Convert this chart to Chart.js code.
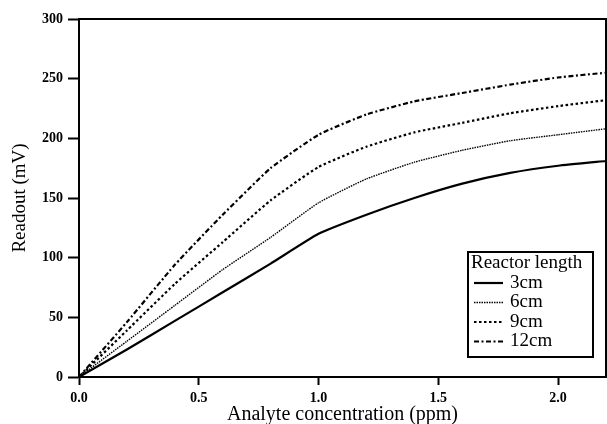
<!DOCTYPE html>
<html>
<head>
<meta charset="utf-8">
<script src="https://cdn.jsdelivr.net/npm/chart.js@4.4.1/dist/chart.umd.min.js"></script>
<style>
  html, body { margin: 0; padding: 0; background: #fff; }
  #wrap { width: 607px; height: 424px; }
</style>
</head>
<body>
<div id="wrap"><canvas id="c" width="607" height="424"></canvas></div>
<script>
// Analyte concentration (ppm) at which readouts were taken
const concentration = [0, 0.2, 0.4, 0.6, 0.8, 1.0, 1.2, 1.4, 1.6, 1.8, 2.0, 2.2];

// Readout (mV) for each reactor length
const readout3cm  = [0, 23, 47, 71, 95, 120, 136, 150, 162, 171, 177, 181];
const readout6cm  = [0, 30, 60, 90, 117, 146, 166, 180, 190, 198, 203, 208];
const readout9cm  = [0, 39, 78, 113, 148, 176, 193, 205, 213, 221, 227, 232];
const readout12cm = [0, 46, 94, 136, 175, 203, 220, 231, 238, 245, 251, 255];

const seriesLabels = ['3cm', '6cm', '9cm', '12cm'];
const legendTitle = 'Reactor length';

const xTicks = [0, 0.5, 1.0, 1.5, 2.0];
const yTicks = [0, 50, 100, 150, 200, 250, 300];

const SERIF = '"Liberation Serif", "Times New Roman", serif';

const styles = [
  { borderWidth: 2.2, borderDash: [] },
  { borderWidth: 1.4, borderDash: [1.5, 1] },
  { borderWidth: 2.2, borderDash: [2.5, 2.5] },
  { borderWidth: 2.2, borderDash: [5, 2.5, 2, 2.5] }
];

function toPoints(ys) {
  return concentration.map((x, i) => ({ x: x, y: ys[i] }));
}

const datasets = [readout3cm, readout6cm, readout9cm, readout12cm].map((ys, i) => ({
  label: seriesLabels[i],
  data: toPoints(ys),
  borderColor: '#000',
  backgroundColor: '#000',
  borderWidth: styles[i].borderWidth,
  borderDash: styles[i].borderDash,
  pointRadius: 0,
  tension: 0.15,
  fill: false
}));

// Frame on top/right and the boxed legend inside the plot
const framePlugin = {
  id: 'frameAndLegend',
  afterDatasetsDraw(chart) {
    const { ctx, chartArea: a } = chart;
    ctx.save();
    ctx.strokeStyle = '#000';
    ctx.lineWidth = 2;
    ctx.setLineDash([]);
    ctx.beginPath();
    ctx.moveTo(a.left, a.top);
    ctx.lineTo(a.right, a.top);
    ctx.lineTo(a.right, a.bottom);
    ctx.stroke();

    // legend box
    const bx = 468, by = 252, bw = 125, bh = 105;
    ctx.fillStyle = '#fff';
    ctx.fillRect(bx, by, bw, bh);
    ctx.lineWidth = 2;
    ctx.strokeRect(bx, by, bw, bh);
    ctx.fillStyle = '#000';
    ctx.font = '19px ' + SERIF;
    ctx.textBaseline = 'middle';
    ctx.textAlign = 'left';
    ctx.fillText(legendTitle, bx + 3, by + 11);
    chart.data.datasets.forEach((ds, i) => {
      const yy = by + 31 + i * 19.5;
      ctx.beginPath();
      ctx.lineWidth = ds.borderWidth;
      ctx.setLineDash(ds.borderDash);
      ctx.moveTo(bx + 6, yy);
      ctx.lineTo(bx + 35, yy);
      ctx.stroke();
      ctx.setLineDash([]);
      ctx.fillText(ds.label, bx + 42, yy);
    });
    ctx.restore();
  }
};

new Chart(document.getElementById('c'), {
  type: 'line',
  data: { datasets: datasets },
  options: {
    responsive: false,
    animation: false,
    layout: { padding: { left: 0, right: 1, top: 19, bottom: 0 } },
    plugins: { legend: { display: false }, tooltip: { enabled: false } },
    scales: {
      x: {
        type: 'linear',
        min: 0,
        max: 2.2,
        afterBuildTicks: (s) => { s.ticks = xTicks.map(v => ({ value: v })); },
        afterFit: (s) => { s.height = 47; },
        grid: { drawOnChartArea: false, tickLength: 8, tickColor: '#000', tickWidth: 2 },
        border: { color: '#000', width: 2 },
        ticks: {
          color: '#000',
          padding: 5,
          maxRotation: 0,
          font: { family: SERIF, size: 14, weight: 'bold' },
          callback: (v) => Number(v).toFixed(1)
        },
        title: {
          display: true,
          text: 'Analyte concentration (ppm)',
          color: '#000',
          font: { family: SERIF, size: 20 },
          padding: { top: 0, bottom: -3 }
        }
      },
      y: {
        type: 'linear',
        min: 0,
        max: 300,
        afterBuildTicks: (s) => { s.ticks = yTicks.map(v => ({ value: v })); },
        afterFit: (s) => { s.width = 79; },
        grid: { drawOnChartArea: false, tickLength: 11, tickColor: '#000', tickWidth: 2 },
        border: { color: '#000', width: 2 },
        ticks: {
          color: '#000',
          padding: 5,
          font: { family: SERIF, size: 14, weight: 'bold' }
        },
        title: {
          display: true,
          text: 'Readout (mV)',
          color: '#000',
          font: { family: SERIF, size: 19 },
          padding: { top: 9, bottom: 0 }
        }
      }
    }
  },
  plugins: [framePlugin]
});
</script>
</body>
</html>
